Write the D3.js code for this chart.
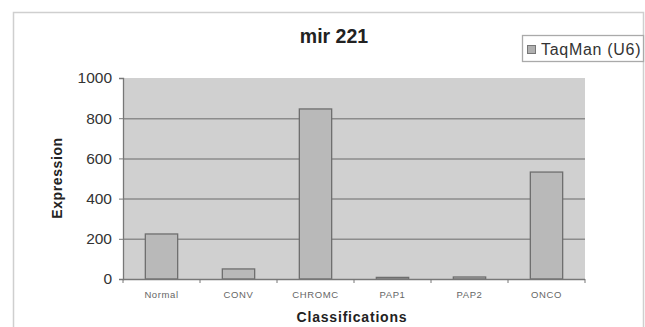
<!DOCTYPE html>
<html>
<head>
<meta charset="utf-8">
<script src="https://cdn.jsdelivr.net/npm/d3@7"></script>
<style>
  html, body { margin: 0; padding: 0; background: #fff; }
  svg { display: block; font-family: Arial, "Liberation Sans", sans-serif; }
</style>
</head>
<body>
<svg id="chart" width="645" height="327"></svg>
<script>
// Expression of mir 221 per tumour classification
const categories = ["Normal", "CONV", "CHROMC", "PAP1", "PAP2", "ONCO"];
const expression = [224, 50, 846, 8, 10, 532];
const yTicks = [0, 200, 400, 600, 800, 1000];
const seriesName = "TaqMan (U6)";

const svg = d3.select("#chart");
const plot = { left: 123, right: 585, top: 78, bottom: 279 };

// outer chart frame
svg.append("rect")
  .attr("x", 13.5).attr("y", 12.5)
  .attr("width", 630).attr("height", 330)
  .attr("fill", "#fff").attr("stroke", "#cfcfcf").attr("stroke-width", 1.5);

const x = d3.scaleBand()
  .domain(categories)
  .range([plot.left, plot.right])
  .paddingInner(0.58)
  .paddingOuter(0.29);

const y = d3.scaleLinear()
  .domain([0, 1000])
  .range([plot.bottom, plot.top]);

// plot background
svg.append("rect")
  .attr("x", plot.left).attr("y", plot.top)
  .attr("width", plot.right - plot.left).attr("height", plot.bottom - plot.top)
  .attr("fill", "#d0d0d0");

// horizontal gridlines
svg.append("g")
  .selectAll("line")
  .data(yTicks.filter(d => d > 0 && d < 1000))
  .join("line")
  .attr("x1", plot.left).attr("x2", plot.right)
  .attr("y1", d => y(d) + 0.5).attr("y2", d => y(d) + 0.5)
  .attr("stroke", "#8c8c8c").attr("stroke-width", 1.5);

// bars
svg.append("g")
  .selectAll("rect")
  .data(categories.map((c, i) => ({ c, v: expression[i] })))
  .join("rect")
  .attr("x", d => x(d.c))
  .attr("y", d => y(d.v))
  .attr("width", x.bandwidth())
  .attr("height", d => y(0) - y(d.v))
  .attr("fill", "#b9b9b9")
  .attr("stroke", "#6e6e6e")
  .attr("stroke-width", 1.3);

// y axis
const yAxis = svg.append("g")
  .attr("transform", `translate(${plot.left},0)`)
  .call(d3.axisLeft(y).tickValues(yTicks).tickFormat(d3.format("d")).tickSize(4).tickPadding(7));
yAxis.select(".domain").attr("stroke", "#777").attr("stroke-width", 1.3);
yAxis.selectAll(".tick line").attr("stroke", "#777");
yAxis.selectAll(".tick text")
  .attr("font-size", 15.5).attr("fill", "#333")
  .attr("font-family", "Arial, 'Liberation Sans', sans-serif");

// x axis: ticks sit between categories
const step = x.step();
const boundaries = d3.range(categories.length + 1).map(i => plot.left + i * step);
svg.append("line")
  .attr("x1", plot.left).attr("x2", plot.right)
  .attr("y1", plot.bottom + 0.5).attr("y2", plot.bottom + 0.5)
  .attr("stroke", "#777").attr("stroke-width", 1.3);
svg.append("g")
  .selectAll("line")
  .data(boundaries)
  .join("line")
  .attr("x1", d => d).attr("x2", d => d)
  .attr("y1", plot.bottom).attr("y2", plot.bottom + 4)
  .attr("stroke", "#777");
svg.append("g")
  .selectAll("text")
  .data(categories)
  .join("text")
  .attr("x", d => x(d) + x.bandwidth() / 2)
  .attr("y", 298)
  .attr("text-anchor", "middle")
  .attr("font-size", 9.5)
  .attr("letter-spacing", 0.6)
  .attr("fill", "#666")
  .text(d => d);

// title
svg.append("text")
  .attr("x", 334).attr("y", 43)
  .attr("text-anchor", "middle")
  .attr("font-size", 19.5).attr("font-weight", "bold")
  .attr("fill", "#222")
  .text("mir 221");

// axis titles
svg.append("text")
  .attr("x", 352).attr("y", 322)
  .attr("text-anchor", "middle")
  .attr("font-size", 14).attr("font-weight", "bold")
  .attr("letter-spacing", 0.8)
  .attr("fill", "#222")
  .text("Classifications");

svg.append("text")
  .attr("transform", "translate(62,178) rotate(-90)")
  .attr("text-anchor", "middle")
  .attr("font-size", 14).attr("font-weight", "bold")
  .attr("letter-spacing", 0.6)
  .attr("fill", "#222")
  .text("Expression");

// legend
const legend = svg.append("g");
legend.append("rect")
  .attr("x", 522.5).attr("y", 35.5)
  .attr("width", 121).attr("height", 26)
  .attr("fill", "#fff").attr("stroke", "#aaa").attr("stroke-width", 1.3);
legend.append("rect")
  .attr("x", 527.5).attr("y", 45.5)
  .attr("width", 8).attr("height", 8)
  .attr("fill", "#b0b0b0").attr("stroke", "#777");
legend.append("text")
  .attr("x", 541).attr("y", 55)
  .attr("font-size", 16).attr("letter-spacing", 0.7)
  .attr("fill", "#333")
  .text(seriesName);
</script>
</body>
</html>
